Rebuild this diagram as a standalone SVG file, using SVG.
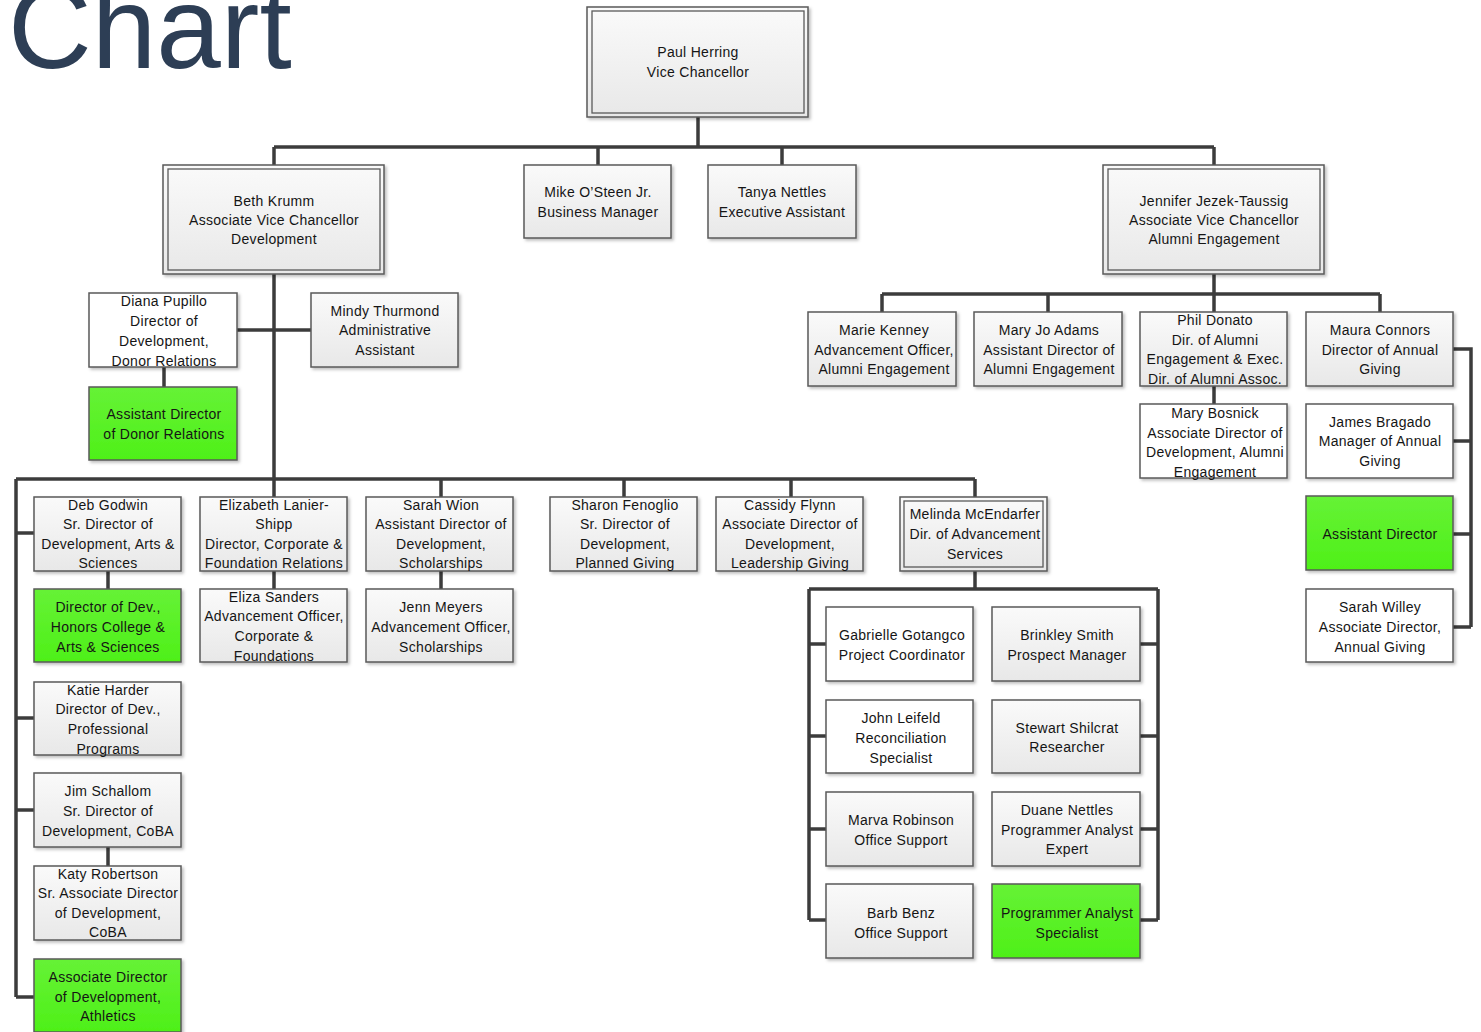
<svg xmlns="http://www.w3.org/2000/svg" width="1481" height="1032" viewBox="0 0 1481 1032">
<defs>
<linearGradient id="gGray" x1="0" y1="0" x2="0" y2="1"><stop offset="0" stop-color="#fafafa"/><stop offset="1" stop-color="#e8e8e8"/></linearGradient>
<linearGradient id="gGreen" x1="0" y1="0" x2="0" y2="1"><stop offset="0" stop-color="#66f236"/><stop offset="1" stop-color="#4ef018"/></linearGradient>
<filter id="sh" x="-10%" y="-10%" width="130%" height="130%"><feDropShadow dx="2" dy="2" stdDeviation="1.5" flood-color="#000" flood-opacity="0.25"/></filter>
</defs>
<style>
.b{stroke:#5a5a5a;stroke-width:1.5;filter:url(#sh)}
.gr{fill:url(#gGray)}
.wh{fill:#ffffff}
.gn{fill:url(#gGreen)}
.in{fill:none;stroke:#5a5a5a;stroke-width:1.3}
text{font-family:"Liberation Sans",Arial,sans-serif;font-size:14px;fill:#151515;text-anchor:middle;letter-spacing:0.3px}
.c{fill:none;stroke:#3c3c3c;stroke-width:3.5}
.title{font-size:116px;fill:#2d3e55;text-anchor:start;letter-spacing:0}
</style>
<text class="title" x="8" y="68">Chart</text>
<g id="connectors">
<path class="c" d="M698 117V147M274 147H1214M274 147V165M598 147V165M782 147V165M1214 147V165"/>
<path class="c" d="M274 274V497M237 330H311M164 367V387"/>
<path class="c" d="M16 479H975M441 479V497M624 479V497M791 479V497M975 479V497"/>
<path class="c" d="M16 479V997M16 533H34M16 718H34M16 810H34M16 997H34"/>
<path class="c" d="M108 571V589M274 571V589M441 571V589M108 847V866"/>
<path class="c" d="M975 571V589M809 589H1158M809 589V920M1158 589V920M809 644H826M809 736H826M809 829H826M809 920H826M1140 644H1158M1140 736H1158M1140 829H1158M1140 920H1158"/>
<path class="c" d="M1214 274V312M882 294H1380M882 294V312M1048 294V312M1380 294V312M1214 386V404"/>
<path class="c" d="M1453 349H1471V627M1453 441H1471M1453 534H1471M1453 627H1471"/>
</g>
<g id="paul"><rect class="b gr" x="587" y="7" width="221" height="110"/><rect class="in" x="592" y="11" width="212" height="102"/><text x="698"><tspan x="698" y="57">Paul Herring</tspan><tspan x="698" y="77">Vice Chancellor</tspan></text></g>
<g id="beth"><rect class="b gr" x="163" y="165" width="221" height="109"/><rect class="in" x="168" y="169" width="212" height="101"/><text><tspan x="274" y="206">Beth Krumm</tspan><tspan x="274" y="225">Associate Vice Chancellor</tspan><tspan x="274" y="244">Development</tspan></text></g>
<g id="mike"><rect class="b gr" x="524" y="165" width="147" height="73"/><text><tspan x="598" y="197">Mike O’Steen Jr.</tspan><tspan x="598" y="217">Business Manager</tspan></text></g>
<g id="tanya"><rect class="b gr" x="708" y="165" width="148" height="73"/><text><tspan x="782" y="197">Tanya Nettles</tspan><tspan x="782" y="217">Executive Assistant</tspan></text></g>
<g id="jennifer"><rect class="b gr" x="1103" y="165" width="221" height="109"/><rect class="in" x="1108" y="169" width="212" height="101"/><text><tspan x="1214" y="206">Jennifer Jezek-Taussig</tspan><tspan x="1214" y="225">Associate Vice Chancellor</tspan><tspan x="1214" y="244">Alumni Engagement</tspan></text></g>
<g id="diana"><rect class="b wh" x="89" y="293" width="148" height="74"/><text><tspan x="164" y="306">Diana Pupillo</tspan><tspan x="164" y="326">Director of</tspan><tspan x="164" y="346">Development,</tspan><tspan x="164" y="366">Donor Relations</tspan></text></g>
<g id="asstDonor"><rect class="b gn" x="89" y="387" width="148" height="73"/><text><tspan x="164" y="419">Assistant Director</tspan><tspan x="164" y="439">of Donor Relations</tspan></text></g>
<g id="mindy"><rect class="b gr" x="311" y="293" width="147" height="74"/><text><tspan x="385" y="316">Mindy Thurmond</tspan><tspan x="385" y="335">Administrative</tspan><tspan x="385" y="355">Assistant</tspan></text></g>
<g id="deb"><rect class="b gr" x="34" y="497" width="147" height="74"/><text><tspan x="108" y="510">Deb Godwin</tspan><tspan x="108" y="529">Sr. Director of</tspan><tspan x="108" y="549">Development, Arts &amp;</tspan><tspan x="108" y="568">Sciences</tspan></text></g>
<g id="honors"><rect class="b gn" x="34" y="589" width="147" height="73"/><text><tspan x="108" y="612">Director of Dev.,</tspan><tspan x="108" y="632">Honors College &amp;</tspan><tspan x="108" y="652">Arts &amp; Sciences</tspan></text></g>
<g id="katie"><rect class="b gr" x="34" y="682" width="147" height="73"/><text><tspan x="108" y="695">Katie Harder</tspan><tspan x="108" y="714">Director of Dev.,</tspan><tspan x="108" y="734">Professional</tspan><tspan x="108" y="754">Programs</tspan></text></g>
<g id="jim"><rect class="b gr" x="34" y="773" width="147" height="74"/><text><tspan x="108" y="796">Jim Schallom</tspan><tspan x="108" y="816">Sr. Director of</tspan><tspan x="108" y="836">Development, CoBA</tspan></text></g>
<g id="katy"><rect class="b gr" x="34" y="866" width="147" height="74"/><text><tspan x="108" y="879">Katy Robertson</tspan><tspan x="108" y="898">Sr. Associate Director</tspan><tspan x="108" y="918">of Development,</tspan><tspan x="108" y="937">CoBA</tspan></text></g>
<g id="athletics"><rect class="b gn" x="34" y="959" width="147" height="73"/><text><tspan x="108" y="982">Associate Director</tspan><tspan x="108" y="1002">of Development,</tspan><tspan x="108" y="1021">Athletics</tspan></text></g>
<g id="elizabeth"><rect class="b gr" x="200" y="497" width="147" height="74"/><text><tspan x="274" y="510">Elizabeth Lanier-</tspan><tspan x="274" y="529">Shipp</tspan><tspan x="274" y="549">Director, Corporate &amp;</tspan><tspan x="274" y="568">Foundation Relations</tspan></text></g>
<g id="eliza"><rect class="b gr" x="200" y="589" width="147" height="73"/><text><tspan x="274" y="602">Eliza Sanders</tspan><tspan x="274" y="621">Advancement Officer,</tspan><tspan x="274" y="641">Corporate &amp;</tspan><tspan x="274" y="661">Foundations</tspan></text></g>
<g id="sarahWion"><rect class="b gr" x="366" y="497" width="147" height="74"/><text><tspan x="441" y="510">Sarah Wion</tspan><tspan x="441" y="529">Assistant Director of</tspan><tspan x="441" y="549">Development,</tspan><tspan x="441" y="568">Scholarships</tspan></text></g>
<g id="jenn"><rect class="b gr" x="366" y="589" width="147" height="73"/><text><tspan x="441" y="612">Jenn Meyers</tspan><tspan x="441" y="632">Advancement Officer,</tspan><tspan x="441" y="652">Scholarships</tspan></text></g>
<g id="sharon"><rect class="b gr" x="550" y="497" width="147" height="74"/><text><tspan x="625" y="510">Sharon Fenoglio</tspan><tspan x="625" y="529">Sr. Director of</tspan><tspan x="625" y="549">Development,</tspan><tspan x="625" y="568">Planned Giving</tspan></text></g>
<g id="cassidy"><rect class="b gr" x="716" y="497" width="147" height="74"/><text><tspan x="790" y="510">Cassidy Flynn</tspan><tspan x="790" y="529">Associate Director of</tspan><tspan x="790" y="549">Development,</tspan><tspan x="790" y="568">Leadership Giving</tspan></text></g>
<g id="melinda"><rect class="b gr" x="900" y="497" width="147" height="74"/><rect class="in" x="904" y="501" width="139" height="66"/><text><tspan x="975" y="519">Melinda McEndarfer</tspan><tspan x="975" y="539">Dir. of Advancement</tspan><tspan x="975" y="559">Services</tspan></text></g>
<g id="gabrielle"><rect class="b wh" x="826" y="607" width="147" height="74"/><text><tspan x="902" y="640">Gabrielle Gotangco</tspan><tspan x="902" y="660">Project Coordinator</tspan></text></g>
<g id="brinkley"><rect class="b gr" x="992" y="607" width="148" height="74"/><text><tspan x="1067" y="640">Brinkley Smith</tspan><tspan x="1067" y="660">Prospect Manager</tspan></text></g>
<g id="john"><rect class="b wh" x="826" y="700" width="147" height="73"/><text><tspan x="901" y="723">John Leifeld</tspan><tspan x="901" y="743">Reconciliation</tspan><tspan x="901" y="763">Specialist</tspan></text></g>
<g id="stewart"><rect class="b gr" x="992" y="700" width="148" height="73"/><text><tspan x="1067" y="733">Stewart Shilcrat</tspan><tspan x="1067" y="752">Researcher</tspan></text></g>
<g id="marva"><rect class="b gr" x="826" y="792" width="147" height="74"/><text><tspan x="901" y="825">Marva Robinson</tspan><tspan x="901" y="845">Office Support</tspan></text></g>
<g id="duane"><rect class="b gr" x="992" y="792" width="148" height="74"/><text><tspan x="1067" y="815">Duane Nettles</tspan><tspan x="1067" y="835">Programmer Analyst</tspan><tspan x="1067" y="854">Expert</tspan></text></g>
<g id="barb"><rect class="b gr" x="826" y="884" width="147" height="74"/><text><tspan x="901" y="918">Barb Benz</tspan><tspan x="901" y="938">Office Support</tspan></text></g>
<g id="progSpec"><rect class="b gn" x="992" y="884" width="148" height="74"/><text><tspan x="1067" y="918">Programmer Analyst</tspan><tspan x="1067" y="938">Specialist</tspan></text></g>
<g id="marie"><rect class="b gr" x="808" y="312" width="148" height="74"/><text><tspan x="884" y="335">Marie Kenney</tspan><tspan x="884" y="355">Advancement Officer,</tspan><tspan x="884" y="374">Alumni Engagement</tspan></text></g>
<g id="maryJo"><rect class="b gr" x="974" y="312" width="148" height="74"/><text><tspan x="1049" y="335">Mary Jo Adams</tspan><tspan x="1049" y="355">Assistant Director of</tspan><tspan x="1049" y="374">Alumni Engagement</tspan></text></g>
<g id="phil"><rect class="b gr" x="1140" y="312" width="147" height="74"/><text><tspan x="1215" y="325">Phil Donato</tspan><tspan x="1215" y="345">Dir. of Alumni</tspan><tspan x="1215" y="364">Engagement &amp; Exec.</tspan><tspan x="1215" y="384">Dir. of Alumni Assoc.</tspan></text></g>
<g id="bosnick"><rect class="b wh" x="1140" y="404" width="147" height="74"/><text><tspan x="1215" y="418">Mary Bosnick</tspan><tspan x="1215" y="438">Associate Director of</tspan><tspan x="1215" y="457">Development, Alumni</tspan><tspan x="1215" y="477">Engagement</tspan></text></g>
<g id="maura"><rect class="b gr" x="1306" y="312" width="147" height="74"/><text><tspan x="1380" y="335">Maura Connors</tspan><tspan x="1380" y="355">Director of Annual</tspan><tspan x="1380" y="374">Giving</tspan></text></g>
<g id="james"><rect class="b wh" x="1306" y="404" width="147" height="74"/><text><tspan x="1380" y="427">James Bragado</tspan><tspan x="1380" y="446">Manager of Annual</tspan><tspan x="1380" y="466">Giving</tspan></text></g>
<g id="asstDir"><rect class="b gn" x="1306" y="496" width="147" height="74"/><text><tspan x="1380" y="539">Assistant Director</tspan></text></g>
<g id="willey"><rect class="b wh" x="1306" y="589" width="147" height="73"/><text><tspan x="1380" y="612">Sarah Willey</tspan><tspan x="1380" y="632">Associate Director,</tspan><tspan x="1380" y="652">Annual Giving</tspan></text></g>
</svg>
